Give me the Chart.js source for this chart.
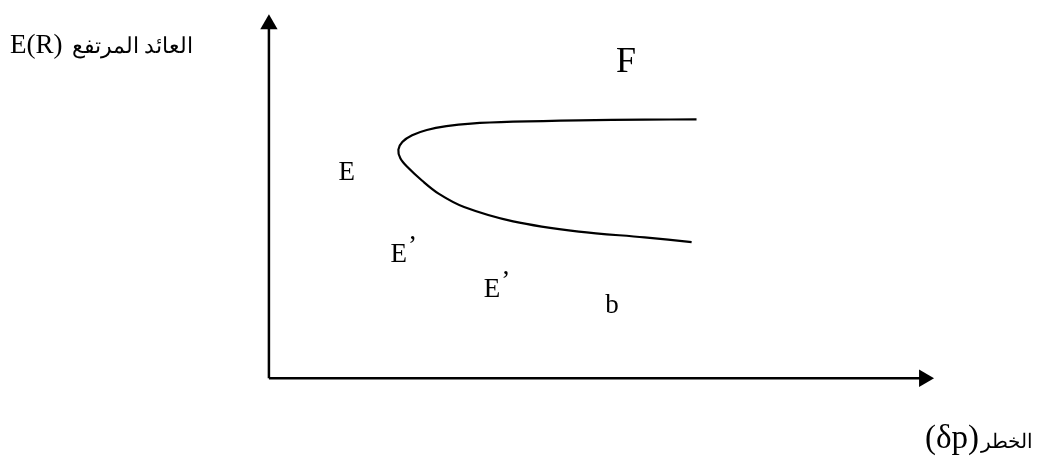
<!DOCTYPE html>
<html>
<head>
<meta charset="utf-8">
<script src="https://cdn.jsdelivr.net/npm/chart.js@4/dist/chart.umd.min.js"></script>
<style>
  html, body { margin: 0; padding: 0; background: #ffffff; }
  #wrap { width: 1039px; height: 459px; position: relative; }
</style>
</head>
<body>
<div id="wrap"><canvas id="c" width="1039" height="459"></canvas></div>
<script>
// ---- data (risk = horizontal, return = vertical; origin at the axes' corner) ----
const curveRisk   = [436, 383, 316, 249, 206, 181, 161, 146, 136, 132, 134, 141, 156, 173, 199, 249, 316, 383, 431];
const curveReturn = [270.7, 270.3, 269.7, 268.2, 266.2, 263.5, 259.5, 254, 247, 239, 230, 221, 206.7, 193, 179, 164, 153.3, 147.3, 142.3];

const axisRiskEnd = 668;    // end of horizontal axis (arrow)
const axisReturnEnd = 370;  // end of vertical axis (arrow)

const pointLabels = ["E", "E", "E", "b", "F"];
const pointPrime  = [false, true, true, false, false];
const labelRisk   = [71, 124, 219, 343, 354];
const labelReturn = [207, 122, 85, 68, 320];

const yTitleLatin = "E(R)";
const yTitleArabic = "العائد المرتفع";
const xTitleLatin = "(δp)";
const xTitleArabic = "الخطر";

const SERIF = "'Liberation Serif', 'Times New Roman', 'DejaVu Serif', serif";

const textPlugin = {
  id: 'diagramText',
  afterDatasetsDraw(chart) {
    const ctx = chart.ctx;
    const xs = chart.scales.x, ys = chart.scales.y;
    ctx.save();
    ctx.fillStyle = '#000';
    ctx.textBaseline = 'alphabetic';
    ctx.textAlign = 'left';
    for (let i = 0; i < pointLabels.length; i++) {
      const px = xs.getPixelForValue(labelRisk[i]);
      const py = ys.getPixelForValue(labelReturn[i]);
      const size = pointLabels[i] === 'F' ? 36 : 27;
      ctx.font = size + 'px ' + SERIF;
      ctx.fillText(pointLabels[i], px, py);
      if (pointPrime[i]) {
        const w = ctx.measureText(pointLabels[i]).width;
        ctx.fillText('\u2019', px + w + 1, py - 8);
      }
    }
    // vertical axis title
    ctx.font = '27px ' + SERIF;
    ctx.fillText(yTitleLatin, 10, 53);
    ctx.font = '22px ' + SERIF;
    ctx.direction = 'rtl';
    ctx.textAlign = 'right';
    ctx.fillText(yTitleArabic, 193, 53);
    // horizontal axis title
    ctx.direction = 'ltr';
    ctx.textAlign = 'left';
    ctx.font = '33px ' + SERIF;
    ctx.fillText(xTitleLatin, 925, 448);
    ctx.font = '20px ' + SERIF;
    ctx.direction = 'rtl';
    ctx.textAlign = 'right';
    ctx.fillText(xTitleArabic, 1033, 448);
    ctx.restore();
  }
};

new Chart(document.getElementById('c'), {
  type: 'scatter',
  data: {
    datasets: [
      {
        label: 'curve',
        data: curveRisk.map((r, i) => ({ x: r, y: curveReturn[i] })),
        showLine: true,
        tension: 0.35,
        borderColor: '#000',
        borderWidth: 2.2,
        pointRadius: 0,
        fill: false
      },
      {
        label: 'returnAxis',
        data: [{ x: 0, y: 0 }, { x: 0, y: axisReturnEnd }],
        showLine: true,
        borderColor: '#000',
        backgroundColor: '#000',
        borderWidth: 2.5,
        pointStyle: 'triangle',
        pointRadius: [0, 10],
        pointRotation: 0,
        pointBorderWidth: 0
      },
      {
        label: 'riskAxis',
        data: [{ x: 0, y: 0 }, { x: axisRiskEnd, y: 0 }],
        showLine: true,
        borderColor: '#000',
        backgroundColor: '#000',
        borderWidth: 2.5,
        pointStyle: 'triangle',
        pointRadius: [0, 10],
        pointRotation: 90,
        pointBorderWidth: 0
      }
    ]
  },
  options: {
    responsive: false,
    animation: false,
    devicePixelRatio: 1,
    layout: { padding: 0 },
    plugins: { legend: { display: false }, tooltip: { enabled: false } },
    scales: {
      x: { type: 'linear', min: -264, max: 775, display: false },
      y: { type: 'linear', min: -74, max: 385, display: false }
    }
  },
  plugins: [textPlugin]
});
</script>
</body>
</html>
